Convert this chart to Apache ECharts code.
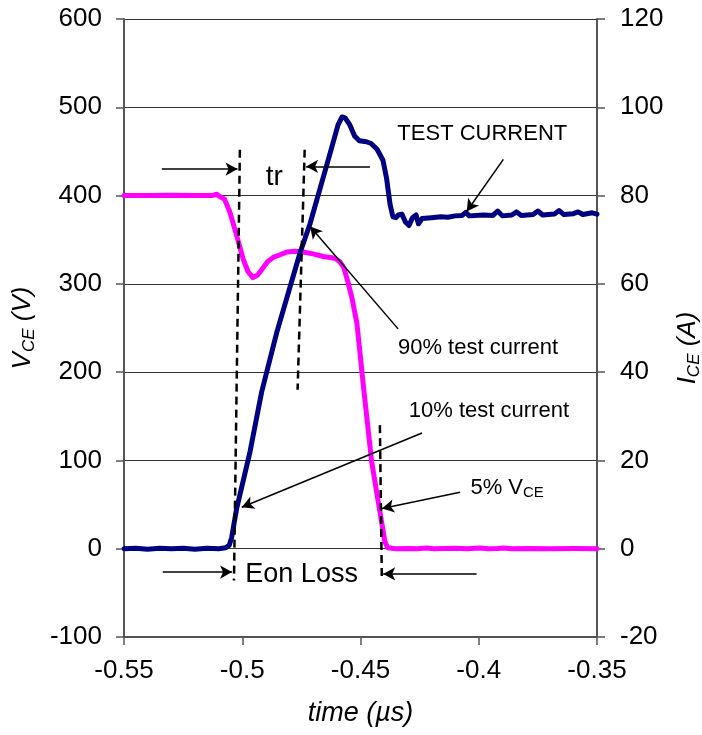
<!DOCTYPE html>
<html><head><meta charset="utf-8">
<script src="https://cdn.jsdelivr.net/npm/echarts@6/dist/echarts.min.js"></script>
<style>html,body{margin:0;padding:0;background:#fff}#c{width:702px;height:735px}</style>
</head><body><div id="c"></div>
<script>
// x-axis ticks (time, µs)
var xTicks = [-0.55, -0.5, -0.45, -0.4, -0.35];
// left axis ticks V_CE (V)
var vTicks = [-100, 0, 100, 200, 300, 400, 500, 600];
// right axis ticks I_CE (A)
var iTicks = [-20, 0, 20, 40, 60, 80, 100, 120];

// Collector-emitter voltage trace (magenta): time µs / V
var vceTime = [-0.55,-0.54,-0.53,-0.52,-0.513,-0.5108,-0.5095,-0.5075,-0.5052,-0.5023,-0.4996,-0.4976,-0.4955,-0.4935,-0.4915,-0.4893,-0.4869,-0.484,-0.4812,-0.4777,-0.4742,-0.4701,-0.4657,-0.4608,-0.4587,-0.457,-0.4553,-0.4537,-0.4515,-0.4488,-0.4453,-0.4418,-0.4397,-0.4385,-0.435,-0.43,-0.426,-0.422,-0.419,-0.41,-0.405,-0.3995,-0.396,-0.392,-0.3895,-0.386,-0.38,-0.37,-0.36,-0.35];
var vceVal  = [400,400,400.5,400,400,401.5,399,396,381,354,328,314,307,310,317,325,330,333,336,337,336,334,331,329,325,318,302,285,255,185,99,42,8,1,0,0.3,0,0.8,0,0.4,0,0.9,0,0.3,0.9,0,0.3,0,0.2,0];

// Collector current trace (navy): time µs / A
var iceTime = [-0.55,-0.545,-0.54,-0.535,-0.53,-0.525,-0.52,-0.515,-0.51,-0.507,-0.5055,-0.5045,-0.5024,-0.4967,-0.4918,-0.4854,-0.4756,-0.4714,-0.4629,-0.4595,-0.4578,-0.4565,-0.4545,-0.4525,-0.4505,-0.4475,-0.4455,-0.443,-0.4405,-0.439,-0.4375,-0.4363,-0.435,-0.434,-0.4325,-0.431,-0.4295,-0.428,-0.4265,-0.4255,-0.424,-0.42,-0.416,-0.413,-0.41,-0.407,-0.4055,-0.404,-0.398,-0.394,-0.392,-0.39,-0.386,-0.384,-0.382,-0.377,-0.375,-0.373,-0.368,-0.366,-0.364,-0.36,-0.358,-0.356,-0.352,-0.35];
var iceVal  = [0,0.1,-0.1,0.1,0,0.1,-0.1,0.1,0,0.2,0.8,2.5,9,22,35.5,49,67,73.5,89.5,96,97.8,97.6,96,93.5,92.4,92.2,91.8,90.5,88,84,78,75.2,75,75.6,75.8,74,73.2,75,75.6,73.6,74.8,75,75.2,75.1,75.4,75.5,76.2,75.4,75.6,75.5,76.5,75.4,75.6,76.3,75.5,75.7,76.5,75.6,75.8,76.6,75.7,75.9,76.3,75.7,76.1,75.8];

// Annotation guide lines (data coords on V axis): dashed markers
var dashLines = [
  [[-0.5010, 452], [-0.5035, -36]],
  [[-0.4736, 452], [-0.4766, 180]],
  [[-0.4418, 140], [-0.4410, -31]]
];
// Annotation arrows: from -> to
var arrows = [
  [[-0.5340, 430], [-0.5020, 430]],
  [[-0.4460, 433], [-0.4730, 433]],
  [[-0.4341, 249], [-0.4713, 365]],
  [[-0.4240, 131], [-0.5002, 47]],
  [[-0.4079, 64], [-0.4409, 45.5]],
  [[-0.3896, 441], [-0.4051, 382]],
  [[-0.5336, -26.5], [-0.5043, -26.5]],
  [[-0.4009, -28.5], [-0.4404, -28.5]]
];
// Annotation texts: x, y, text
var notes = [
  [-0.4865, 421, '{r|tr}'],
  [-0.3985, 470, '{a|TEST CURRENT}'],
  [-0.4003, 227.6, '{a|90% test current}'],
  [-0.3957, 156.3, '{a|10% test current}'],
  [-0.3880, 68.7, '{a|5% V}{s|CE}'],
  [-0.4749, -28.7, '{b|Eon Loss}']
];

var FONT = 'Liberation Sans, Arial, sans-serif';
function zip(a, b) { return a.map(function (v, i) { return [v, b[i]]; }); }

var chart = echarts.init(document.getElementById('c'), null, {renderer: 'canvas'});
var axisCol = '#555';
var option = {
  animation: false,
  backgroundColor: '#fff',
  grid: {left: 124, right: 105, top: 19, bottom: 98, containLabel: false, outerBoundsMode: 'none'},
  xAxis: {
    type: 'value', min: xTicks[0], max: xTicks[xTicks.length - 1], interval: 0.05,
    name: 'time (µs)', nameLocation: 'middle', nameGap: 63,
    nameTextStyle: {fontFamily: FONT, fontSize: 27, fontStyle: 'italic', color: '#000'},
    axisLine: {show: true, onZero: false, lineStyle: {color: axisCol, width: 2}},
    axisTick: {show: true, inside: false, length: 8, lineStyle: {color: axisCol, width: 1.5}},
    axisLabel: {margin: 21, fontFamily: FONT, fontSize: 26, color: '#000',
      formatter: function (v) { return String(+v.toFixed(2)); }},
    splitLine: {show: false}
  },
  yAxis: [{
    type: 'value', position: 'left', min: vTicks[0], max: vTicks[vTicks.length - 1], interval: 100,
    name: '{i|V}{s|CE}{i| (V)}', nameLocation: 'middle', nameRotate: 90, nameGap: 86,
    nameTextStyle: {fontFamily: FONT, color: '#000', rich: {
      i: {fontFamily: FONT, fontSize: 26, fontStyle: 'italic', color: '#000'},
      s: {fontFamily: FONT, fontSize: 17, fontStyle: 'italic', color: '#000', padding: [13, 0, 0, 0]}}},
    axisLine: {show: true, onZero: false, lineStyle: {color: axisCol, width: 2}},
    axisTick: {show: true, length: 8, lineStyle: {color: axisCol, width: 1.5}},
    axisLabel: {margin: 22, fontFamily: FONT, fontSize: 26, color: '#000'},
    splitLine: {show: true, lineStyle: {color: '#333', width: 1}}
  }, {
    type: 'value', position: 'right', min: iTicks[0], max: iTicks[iTicks.length - 1], interval: 20,
    name: '{i|I}{s|CE}{i| (A)}', nameLocation: 'middle', nameRotate: 90, nameGap: 57,
    nameTextStyle: {fontFamily: FONT, color: '#000', padding: [0, 40, 0, 0], rich: {
      i: {fontFamily: FONT, fontSize: 26, fontStyle: 'italic', color: '#000'},
      s: {fontFamily: FONT, fontSize: 17, fontStyle: 'italic', color: '#000', padding: [13, 0, 0, 0]}}},
    axisLine: {show: true, onZero: false, lineStyle: {color: axisCol, width: 2}},
    axisTick: {show: true, length: 8, lineStyle: {color: axisCol, width: 1.5}},
    axisLabel: {margin: 23, fontFamily: FONT, fontSize: 26, color: '#000'},
    splitLine: {show: false}
  }],
  series: [{
    name: 'VCE', type: 'line', yAxisIndex: 0, data: zip(vceTime, vceVal),
    showSymbol: false, symbol: 'none', smooth: false,
    lineStyle: {color: '#FF00FF', width: 5, join: 'round', cap: 'round'}, z: 3
  }, {
    name: 'ICE', type: 'line', yAxisIndex: 1, data: zip(iceTime, iceVal),
    showSymbol: false, symbol: 'none', smooth: false,
    lineStyle: {color: '#000080', width: 5, join: 'round', cap: 'round'}, z: 4
  }, {
    name: 'dash', type: 'line', yAxisIndex: 0, data: [], z: 5,
    markLine: {
      silent: true, symbol: ['none', 'none'], animation: false,
      label: {show: false},
      lineStyle: {color: '#000', width: 2.5, type: [8, 5]},
      data: dashLines.map(function (p) { return [{coord: p[0]}, {coord: p[1]}]; })
    }
  }, {
    name: 'arrows', type: 'line', yAxisIndex: 0, data: [], z: 6,
    markLine: {
      silent: true, symbol: ['none', 'arrow'], symbolSize: [10, 12], animation: false,
      label: {show: false},
      lineStyle: {color: '#000', width: 1.5, type: 'solid'},
      data: arrows.map(function (p) { return [{coord: p[0]}, {coord: p[1]}]; })
    },
    markPoint: {
      silent: true, symbol: 'circle', symbolSize: 0, animation: false,
      label: {show: true, position: 'inside', fontFamily: FONT, fontSize: 22, color: '#000',
        rich: {
          a: {fontFamily: FONT, fontSize: 22, color: '#000'},
          r: {fontFamily: FONT, fontSize: 28, color: '#000'},
          s: {fontFamily: FONT, fontSize: 15, color: '#000', padding: [10, 0, 0, 0]},
          b: {fontFamily: FONT, fontSize: 27, color: '#000'}
        }},
      data: notes.map(function (n) {
        return {coord: [n[0], n[1]], value: 0, label: {formatter: n[2]}};
      })
    }
  }]
};
chart.setOption(option);
</script>
</body></html>
